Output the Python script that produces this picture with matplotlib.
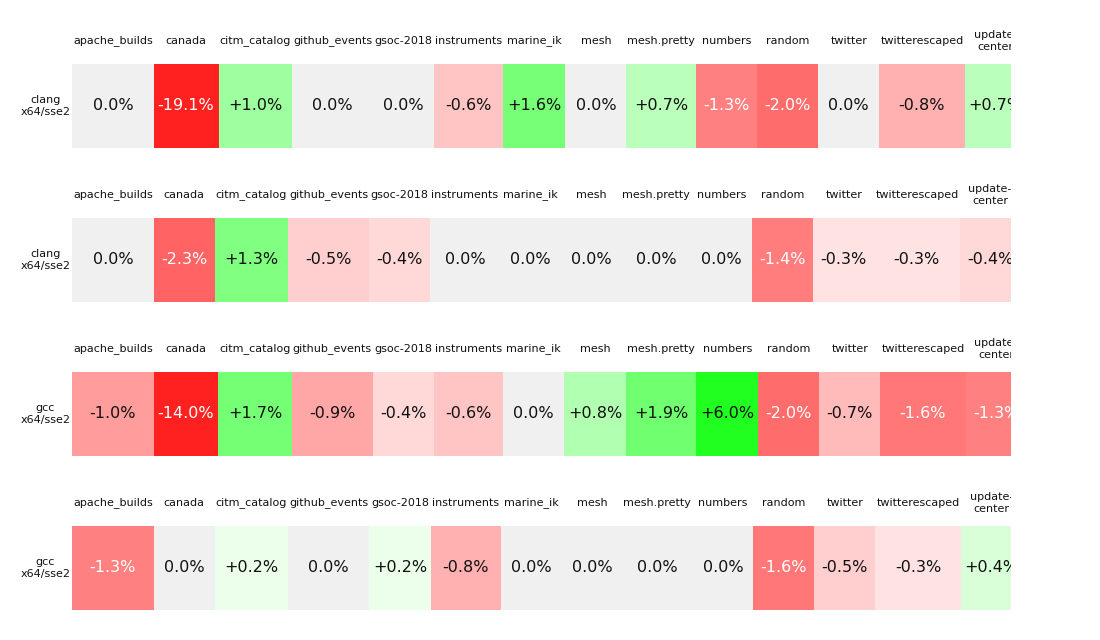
import matplotlib
matplotlib.use("Agg")
import matplotlib.pyplot as plt
import numpy as np
from matplotlib.patches import Rectangle

benchmarks = ["apache_builds", "canada", "citm_catalog", "github_events", "gsoc-2018",
              "instruments", "marine_ik", "mesh", "mesh.pretty", "numbers", "random",
              "twitter", "twitterescaped", "update-\ncenter"]
configs = ["clang\nx64/sse2", "clang\nx64/sse2", "gcc\nx64/sse2", "gcc\nx64/sse2"]

# percent change per benchmark, one list per row
row1 = [0.0, -19.1, 1.0, 0.0, 0.0, -0.6, 1.6, 0.0, 0.7, -1.3, -2.0, 0.0, -0.8, 0.7]
row2 = [0.0, -2.3, 1.3, -0.5, -0.4, 0.0, 0.0, 0.0, 0.0, 0.0, -1.4, -0.3, -0.3, -0.4]
row3 = [-1.0, -14.0, 1.7, -0.9, -0.4, -0.6, 0.0, 0.8, 1.9, 6.0, -2.0, -0.7, -1.6, -1.3]
row4 = [-1.3, 0.0, 0.2, 0.0, 0.2, -0.8, 0.0, 0.0, 0.0, 0.0, -1.6, -0.5, -0.3, 0.4]
changes = [row1, row2, row3, row4]


def cell_color(v):
    if v == 0:
        return "#f0f0f0"
    f = np.interp(abs(v), [0, 1.3, 2.3, 6.0], [0, 0.5, 0.61, 0.875])
    if v < 0:
        return (1, 1 - f, 1 - f)
    return (1 - f, 1, 1 - f)


def fmt(v):
    if v == 0:
        return "0.0%"
    return "%+.1f%%" % v


W, H = 1100, 640
fig = plt.figure(figsize=(W / 100, H / 100), dpi=100)
renderer = fig.canvas.get_renderer()

for i in range(len(changes)):
    top = 64 + 154 * i
    ax = fig.add_axes([72 / W, 1 - (top + 84) / H, 939 / W, 84 / H])
    ax.set_xlim(0, 939)
    ax.set_ylim(0, 1)
    ax.axis("off")
    # clip at the right edge but let the header labels above the cells show
    clip = Rectangle((0, 0), 1, 2, transform=ax.transAxes)

    heads = [ax.text(0, 1.274, b, ha="center", va="center", fontsize=8, clip_on=True,
                     color="#111111") for b in benchmarks]
    vals = [ax.text(0, 0.5, fmt(v), ha="center", va="center", fontsize=11.5, clip_on=True,
                    color="white" if v <= -1.3 else "#111111") for v in changes[i]]

    widths = []
    for h, t in zip(heads, vals):
        hw = h.get_window_extent(renderer).width
        vw = t.get_window_extent(renderer).width
        widths.append(max(61, hw + 2, vw + 8))
    lefts = np.concatenate([[0], np.cumsum(widths)[:-1]])

    ax.bar(lefts, 1, width=widths, align="edge",
           color=[cell_color(v) for v in changes[i]], linewidth=0)
    for x, w, h, t in zip(lefts, widths, heads, vals):
        h.set_x(x + w / 2)
        t.set_x(x + w / 2)
        h.set_clip_path(clip)
        t.set_clip_path(clip)

    ax.text(-1.5, 0.5, configs[i], ha="right", va="center", fontsize=8,
            multialignment="center", color="#111111")

fig.savefig("out.png", dpi=100)
